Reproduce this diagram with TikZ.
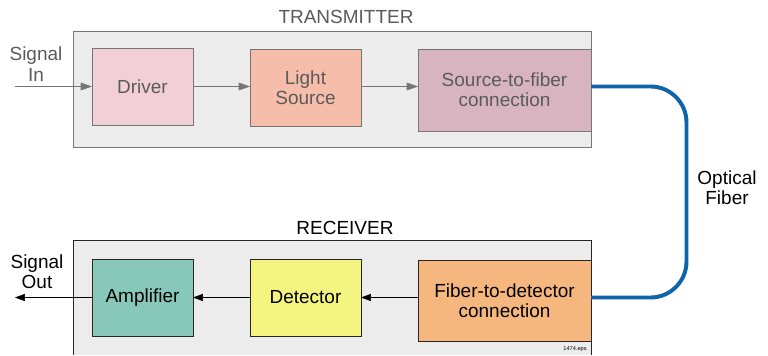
\documentclass[tikz,border=0pt]{standalone}
\usepackage{fontspec}
\setmainfont{Liberation Sans}
\usetikzlibrary{arrows.meta, positioning, calc}
\definecolor{drvpink}   {RGB}{242,207,216}
\definecolor{srcsalmon} {RGB}{246,190,170}
\definecolor{sfmauve}   {RGB}{216,180,192}
\definecolor{ampteal}   {RGB}{136,200,186}
\definecolor{detyellow} {RGB}{244,244,128}
\definecolor{fdorange}  {RGB}{245,183,125}
\definecolor{boxgray}   {RGB}{236,236,236}
\definecolor{txgray}    {RGB}{118,118,118}
\definecolor{txtext}    {RGB}{90,90,90}
\definecolor{fiberblue} {RGB}{16,100,170}
\tikzset{
	blk/.style={draw, inner sep=0pt, outer sep=0pt, align=center,
		font=\fontsize{13.5}{14.5}\selectfont},
	txblk/.style={blk, draw=txgray, text=txtext},
	rxblk/.style={blk, draw=black!85, text=black},
	lbl/.style={align=center, font=\fontsize{13.5}{14.5}\selectfont},
	txarr/.style={draw=txgray, -{Triangle[length=8pt,width=5.5pt]}},
	rxarr/.style={draw=black, -{Triangle[length=7pt,width=5pt]}},
	fiber/.style={draw=fiberblue, line width=2.8pt, rounded corners=0.9cm}
}
\begin{document}
\begin{tikzpicture}[x=0.025cm,y=-0.025cm]
	\useasboundingbox (0,0) rectangle (768,355);
	% transmitter
	\filldraw[draw=txgray, fill=boxgray] (73,31) rectangle (591,147);
	\node[lbl, text=txtext] (txtitle) at (346,17) {TRANSMITTER};
	\node[txblk, fill=drvpink, minimum width=2.525cm, minimum height=1.925cm] (driver) at (142.5,86.5) {Driver};
	\node[txblk, fill=srcsalmon, minimum width=2.775cm, minimum height=1.925cm] (lightsrc) at (305.5,88) {Light\\Source};
	\node[txblk, fill=sfmauve, minimum width=4.325cm, minimum height=2.05cm] (srcfiber) at (504.5,90) {Source-to-fiber\\connection};
	\node[lbl, text=txtext] (sigin) at (36,64) {Signal\\In};
	\coordinate (inend) at (15,86.5);
	\draw[txarr] (inend) -- (driver.west);
	\draw[txarr] (driver) -- (driver -| lightsrc.west);
	\draw[txarr] (driver -| lightsrc.east) -- (driver -| srcfiber.west);
	% receiver
	\fill[boxgray] (73,240) rectangle (591,355);
	\draw[black!85] (73,355) -- (73,240) -- (591,240) -- (591,355);
	\node[lbl] (rxtitle) at (345,228) {RECEIVER};
	\node[rxblk, fill=ampteal, minimum width=2.525cm, minimum height=1.925cm] (amp) at (142.5,297.5) {Amplifier};
	\node[rxblk, fill=detyellow, minimum width=2.775cm, minimum height=1.925cm] (detector) at (305.5,297.5) {Detector};
	\node[rxblk, fill=fdorange, minimum width=4.325cm, minimum height=2.025cm] (fiberdet) at (504.5,300.5) {Fiber-to-detector\\connection};
	\node[lbl] (sigout) at (37,272) {Signal\\Out};
	\coordinate (outend) at (15,297.5);
	\draw[rxarr] (fiberdet.west |- detector.east) -- (detector.east);
	\draw[rxarr] (detector) -- (amp);
	\draw[rxarr] (amp.west) -- (outend);
	\node[font=\fontsize{4}{5}\selectfont] (epsname) at (575,349) {1474.eps};
	% optical fiber
	\draw[fiber] (srcfiber.east |- driver.east) -- (686.5,86.5) -- (686.5,297.5) -- (fiberdet.east |- detector.east);
	\node[lbl] (fibertxt) at (727,188) {Optical\\Fiber};
\end{tikzpicture}
\end{document}
